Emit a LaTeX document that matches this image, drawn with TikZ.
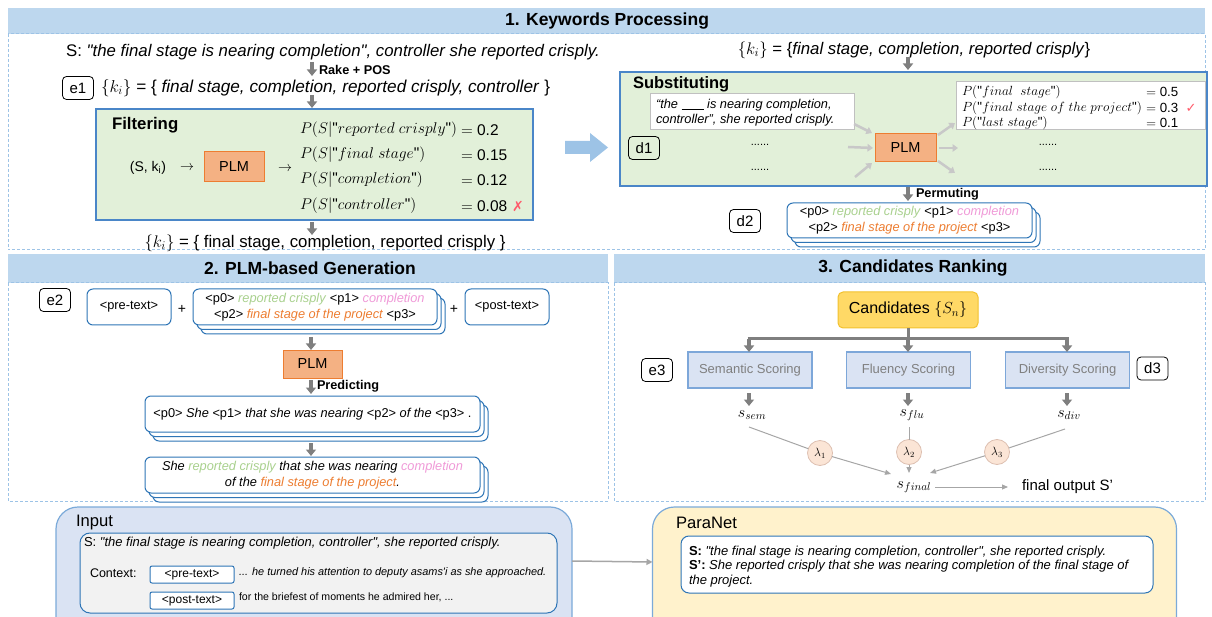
\RequirePackage{fix-cm}
\documentclass[tikz,border=0pt]{standalone}
\usepackage{fontspec}
\setmainfont{Liberation Sans}[Ligatures=TeXOff]
\newfontfamily\djv{DejaVu Sans}
\usetikzlibrary{arrows.meta,shadows,calc}
\definecolor{barblue}{HTML}{BDD7EE}
\definecolor{dashblue}{HTML}{9DC3E6}
\definecolor{grfill}{HTML}{E2F0D9}
\definecolor{grdraw}{HTML}{4A86C8}
\definecolor{plmfill}{HTML}{F4B183}
\definecolor{plmdraw}{HTML}{ED7D31}
\definecolor{arrgray}{HTML}{7F7F7F}
\definecolor{lgray}{HTML}{C8C8C8}
\definecolor{tgray}{HTML}{A6A6A6}
\definecolor{qgray}{HTML}{C0C0C0}
\definecolor{boxblue}{HTML}{2E75B6}
\definecolor{tgreen}{HTML}{A9D18E}
\definecolor{tpink}{HTML}{F09AD8}
\definecolor{torange}{HTML}{ED7D31}
\definecolor{xred}{HTML}{FF5B6B}
\definecolor{candfill}{HTML}{FFD966}
\definecolor{canddraw}{HTML}{F2C12E}
\definecolor{scfill}{HTML}{DAE3F3}
\definecolor{scdraw}{HTML}{7DA7D9}
\definecolor{sctext}{HTML}{7F7F7F}
\definecolor{lamfill}{HTML}{FBE5D6}
\definecolor{lamdraw}{HTML}{DDBFB0}
\definecolor{inpfill}{HTML}{DAE3F3}
\definecolor{inpdraw}{HTML}{7BAAD9}
\definecolor{innfill}{HTML}{F2F2F2}
\definecolor{parfill}{HTML}{FFF2CC}
\definecolor{bigarr}{HTML}{9DC3E6}
\newcommand\fsz[2]{\fontsize{#1}{#2}\selectfont}
\begin{document}
\begin{tikzpicture}[x=1pt,y=-1pt,inner sep=0pt,outer sep=0pt,
  bar/.style={fill=barblue},
  sect/.style={draw=dashblue,line width=1pt,dash pattern=on 3pt off 2pt},
  ttl/.style={font=\bfseries\fsz{17.5}{20}},
  tag/.style={draw=black,line width=0.8pt,rounded corners=4pt,minimum width=31pt,minimum height=23pt,font=\fsz{15}{18}},
  garrow/.style={draw=arrgray,line width=3.5pt,-{Triangle[width=10pt,length=6.5pt]}},
  gline/.style={draw=arrgray,line width=3pt},
  larrow/.style={draw=lgray,line width=2.5pt,-{Triangle[width=7.5pt,length=5.5pt]}},
  tline/.style={draw=tgray,line width=1pt},
  tarrow/.style={draw=tgray,line width=1pt,-{Triangle[width=5pt,length=6pt]}},
  marrow/.style={draw=tgray,line width=1.5pt,-{Triangle[width=6pt,length=6pt]}},
  plm/.style={fill=plmfill,draw=plmdraw,line width=1pt,minimum width=60pt,minimum height=30pt,font=\fsz{14.5}{16}},
  gbox/.style={fill=grfill,draw=grdraw,line width=1.2pt},
  wbox/.style={fill=white,draw=qgray,line width=1pt},
  rbox/.style={fill=white,draw=boxblue,line width=1pt,rounded corners=6pt},
  stk/.style={rbox,
    copy shadow={shadow xshift=8pt,shadow yshift=-9pt,fill=white,draw=boxblue,line width=1pt},
    copy shadow={shadow xshift=4pt,shadow yshift=-4.5pt,fill=white,draw=boxblue,line width=1pt}},
  prob/.style={font=\fsz{15.5}{17}},
  sprob/.style={font=\fsz{13.3}{15}},
  score/.style={fill=scfill,draw=scdraw,line width=1.2pt,minimum width=124pt,minimum height=36pt,text=sctext,font=\fsz{13}{15}},
  lam/.style={circle,fill=lamfill,draw=lamdraw,line width=0.8pt,minimum size=25pt,font=\fsz{12}{13}},
  stxt/.style={font=\fsz{12.8}{16}},
  big/.style={font=\fsz{16.8}{19}},
  smb/.style={font=\bfseries\fsz{12.7}{14}}]
\useasboundingbox (0,0) rectangle (1212,617);
\clip (0,0) rectangle (1212,617);

% ---------- section frames
\fill[bar] (8,8) rectangle (1205,34);
\draw[sect] (8,34) rectangle (1205,250);
\fill[bar] (8,254) rectangle (608,283);
\draw[sect] (8,283) rectangle (608,501);
\fill[bar] (614,254) rectangle (1205,283);
\draw[sect] (614,283) rectangle (1205,501);
\node[ttl] (t1) at (607,21) {1. Keywords Processing};
\node[ttl] (t2) at (310,268.5) {2. PLM-based Generation};
\node[ttl] (t3) at (913,268.5) {3. Candidates Ranking};

% ---------- section 1, left
\node[big] (s1) at (333,52) {S: \textit{"the final stage is nearing completion", controller she reported crisply.}};
\coordinate (a1s) at (312,62); \coordinate (a1e) at (312,76);
\draw[garrow] (a1s) -- (a1e);
\node[anchor=west,smb] (rk) at (319,70) {Rake + POS};
\node[tag] (e1) at (78,88) {e1};
\node[anchor=west,font=\fsz{17.2}{19}] (k1) at (101,88) {$\{k_i\}$ = \{ \textit{final stage, completion, reported crisply, controller} \}};
\coordinate (a2s) at (312,95); \coordinate (a2e) at (312,108);
\draw[garrow] (a2s) -- (a2e);
\node[gbox,minimum width=437pt,minimum height=111pt] (filt) at (314.5,164.5) {};
\node[anchor=west,font=\bfseries\fsz{16.8}{19}] (filtl) at (112,125) {Filtering};
\node[font=\fsz{14}{16}] (sk) at (148,168) {(S, k\textsubscript{i})};
\node[font=\fsz{14}{16}] (ar1) at (187,168) {$\rightarrow$};
\node[plm] (plm1) at (234,167) {PLM};
\node[font=\fsz{14}{16}] (ar2) at (285,169) {$\rightarrow$};
\node[prob,anchor=west] (p1) at (300,130) {$P(S|\textnormal{"}reported\ crisply\textnormal{"})$};
\node[prob,anchor=west] (p2) at (300,155) {$P(S|\textnormal{"}final\ stage\textnormal{"})$};
\node[prob,anchor=west] (p3) at (300,180) {$P(S|\textnormal{"}completion\textnormal{"})$};
\node[prob,anchor=west] (p4) at (300,206) {$P(S|\textnormal{"}controller\textnormal{"})$};
\node[prob,anchor=west] (v1) at (461,130) {$=$ 0.2};
\node[prob,anchor=west] (v2) at (461,155) {$=$ 0.15};
\node[prob,anchor=west] (v3) at (461,180) {$=$ 0.12};
\node[prob,anchor=west] (v4) at (461,206) {$=$ 0.08};
\node[text=xred,font=\djv\fsz{14}{16}] (x1) at (518,206) {✗};
\coordinate (a3s) at (312,222); \coordinate (a3e) at (312,235);
\draw[garrow] (a3s) -- (a3e);
\node[big] (k2) at (325,243) {$\{k_i\}$ = \{ final stage, completion, reported crisply \}};

% big arrow
\fill[bigarr] (565,141) -- (590,141) -- (590,133) -- (608,147.5) -- (590,162) -- (590,154) -- (565,154) -- cycle;

% ---------- section 1, right
\node[big] (k3) at (914,50) {$\{k_i\}$ = \{\textit{final stage, completion, reported crisply}\}};
\coordinate (a4s) at (908,57); \coordinate (a4e) at (908,70);
\draw[garrow] (a4s) -- (a4e);
\node[gbox,minimum width=587pt,minimum height=114pt] (sub) at (913.5,129) {};
\node[anchor=west,font=\bfseries\fsz{16.5}{19}] (subl) at (633,84) {Substituting};
\node[wbox,minimum width=204pt,minimum height=36pt] (q) at (752,112) {};
\node[anchor=west,font=\itshape\fsz{12.8}{15}] (q1) at (656,105) {“the \rule[-1.5pt]{22pt}{0.7pt} is nearing completion,};
\node[anchor=west,font=\itshape\fsz{12.8}{15}] (q2) at (656,120) {controller”, she reported crisply.};
\node[tag] (d1) at (644,148) {d1};
\node[font=\fsz{11}{12}] (dl1) at (760,145) {......};
\node[font=\fsz{11}{12}] (dl2) at (760,170) {......};
\node[plm,minimum width=61pt,minimum height=28pt] (plm2) at (905.5,148) {PLM};
\node[wbox,minimum width=249pt,minimum height=48pt] (pb) at (1080.5,106) {};
\node[sprob,anchor=west] (pp1) at (962,92) {$P(\textnormal{"}final\ \ stage\textnormal{"})$};
\node[sprob,anchor=west] (pp2) at (962,108) {$P(\textnormal{"}final\ stage\ of\ the\ project\textnormal{"})$};
\node[sprob,anchor=west] (pp3) at (962,123) {$P(\textnormal{"}last\ stage\textnormal{"})$};
\node[sprob,anchor=west] (pv1) at (1146,92) {$=$ 0.5};
\node[sprob,anchor=west] (pv2) at (1146,108) {$=$ 0.3};
\node[sprob,anchor=west] (pv3) at (1146,123) {$=$ 0.1};
\node[text=xred,font=\djv\fsz{13}{15}] (ck) at (1191,108) {✓};
\node[font=\fsz{11}{12}] (dr1) at (1048,145) {......};
\node[font=\fsz{11}{12}] (dr2) at (1048,170) {......};
\coordinate (lm1) at (848,147);
\coordinate (lb1) at (855,177);
\coordinate (ra1) at (955,123);
\coordinate (rm1) at (958,148);
\coordinate (rb1) at (955,173);
\draw[larrow] ([yshift=6pt]q.south east) -- ([xshift=-3pt,yshift=1pt]plm2.north west);
\draw[larrow] (lm1) -- ([xshift=-2pt]plm2.west);
\draw[larrow] (lb1) -- ([xshift=-3pt,yshift=-1pt]plm2.south west);
\draw[larrow] ([xshift=2pt,yshift=-1pt]plm2.north east) -- (ra1);
\draw[larrow] ([xshift=3pt]plm2.east) -- (rm1);
\draw[larrow] ([xshift=2pt,yshift=1pt]plm2.south east) -- (rb1);
\coordinate (a5s) at (908,187); \coordinate (a5e) at (908,201);
\draw[garrow] (a5s) -- (a5e);
\node[anchor=west,smb] (perm) at (916,194) {Permuting};
\node[tag] (d2) at (745,221) {d2};
\node[stk,minimum width=245pt,minimum height=35pt,align=center,stxt] (st1) at (909.5,220.5)
  {<p0> \textcolor{tgreen}{\textit{reported crisply}} <p1> \textcolor{tpink}{\textit{completion}}\\
   <p2> \textcolor{torange}{\textit{final stage of the project}} <p3>};

% ---------- section 2
\node[tag] (e2) at (55,300) {e2};
\node[rbox,minimum width=84pt,minimum height=36pt,stxt] (pre) at (129,307) {<pre-text>};
\node[font=\fsz{14}{16}] (pl1) at (182,309) {+};
\node[stk,minimum width=244pt,minimum height=36pt,align=center,stxt] (st2) at (315,307)
  {<p0> \textcolor{tgreen}{\textit{reported crisply}} <p1> \textcolor{tpink}{\textit{completion}}\\
   <p2> \textcolor{torange}{\textit{final stage of the project}} <p3>};
\node[font=\fsz{14}{16}] (pl2) at (454,309) {+};
\node[rbox,minimum width=84pt,minimum height=36pt,stxt] (post) at (507,307) {<post-text>};
\coordinate (a6s) at (311,337); \coordinate (a6e) at (311,350);
\draw[garrow] (a6s) -- (a6e);
\node[plm,minimum width=59pt,minimum height=28pt] (plm3) at (312.5,364) {PLM};
\coordinate (a7s) at (311,380); \coordinate (a7e) at (311,394);
\draw[garrow] (a7s) -- (a7e);
\node[anchor=west,smb] (pred) at (317,386) {Predicting};
\node[stk,minimum width=335pt,minimum height=36pt,stxt] (pb1) at (312.5,414)
  {<p0> \textit{She} <p1> \textit{that she was nearing} <p2> \textit{of the} <p3> .};
\coordinate (a8s) at (311,443); \coordinate (a8e) at (311,456);
\draw[garrow] (a8s) -- (a8e);
\node[stk,minimum width=335pt,minimum height=36pt,align=center,font={\itshape\fsz{12.8}{16}}] (pb2) at (312.5,475)
  {She \textcolor{tgreen}{reported crisply} that she was nearing \textcolor{tpink}{completion}\\
   of the \textcolor{torange}{final stage of the project}.};

% ---------- section 3
\node[fill=candfill,draw=canddraw,line width=1pt,rounded corners=5pt,minimum width=140pt,minimum height=36pt,font=\fsz{16}{18}] (cand) at (908,310) {Candidates $\{S_n\}$};
\coordinate (hl) at (749,339); \coordinate (hm) at (908,339); \coordinate (hr) at (1067,339);
\draw[gline] (cand.south) -- (hm);
\draw[gline] ([xshift=-1.5pt]hl) -- ([xshift=1.5pt]hr);
\node[score] (sem) at (750,370) {Semantic Scoring};
\node[score] (flu) at (908.5,370) {Fluency Scoring};
\node[score] (div) at (1067.5,370) {Diversity Scoring};
\draw[garrow] (hl) -- (hl |- sem.north);
\draw[garrow] (hm) -- (hm |- flu.north);
\draw[garrow] (hr) -- (hr |- div.north);
\node[tag] (e3) at (657,370) {e3};
\node[tag] (d3) at (1152.5,368.5) {d3};
\coordinate (b1s) at (749,393); \coordinate (b1e) at (749,406);
\coordinate (b2s) at (908,393); \coordinate (b2e) at (908,406);
\coordinate (b3s) at (1067,393); \coordinate (b3e) at (1067,406);
\draw[garrow] (b1s) -- (b1e);
\draw[garrow] (b2s) -- (b2e);
\draw[garrow] (b3s) -- (b3e);
\node[font=\fsz{16}{18}] (ssem) at (752,415) {$s_{sem}$};
\node[font=\fsz{16}{18}] (sflu) at (912,415) {$s_{flu}$};
\node[font=\fsz{16}{18}] (sdiv) at (1069,415) {$s_{div}$};
\node[lam] (l1) at (820,453) {$\lambda_1$};
\node[lam] (l2) at (909,452) {$\lambda_2$};
\node[lam] (l3) at (997,452) {$\lambda_3$};
\coordinate (c1a) at (749,427); \coordinate (c1b) at (891,474);
\coordinate (c2a) at (909,427); \coordinate (c2b) at (909,473);
\coordinate (c3a) at (1065,429); \coordinate (c3b) at (930,473);
\draw[tline] (c1a) -- (l1); \draw[tarrow] (l1) -- (c1b);
\draw[tline] (c2a) -- (l2); \draw[tarrow] (l2) -- (c2b);
\draw[tline] (c3a) -- (l3); \draw[tarrow] (l3) -- (c3b);
\node[font=\fsz{16}{18}] (sfin) at (914,487) {$s_{final}$};
\node[anchor=west,font=\fsz{15}{17}] (fo) at (1022,487) {final output S’};
\coordinate (foc) at (1008,487);
\draw[tarrow] ([xshift=4pt]sfin.east) -- (foc);

% ---------- bottom
\node[fill=inpfill,draw=inpdraw,line width=1.2pt,rounded corners=22pt,minimum width=516pt,minimum height=138pt] (inp) at (314,576) {};
\node[anchor=west,font=\fsz{16.6}{18}] (inpl) at (76,523) {Input};
\node[fill=innfill,draw=boxblue,line width=1pt,rounded corners=10pt,minimum width=477pt,minimum height=80pt] (inn) at (318.5,573) {};
\node[anchor=west,font=\fsz{13}{15}] (is) at (84,543) {S: \textit{"the final stage is nearing completion, controller", she reported crisply.}};
\node[anchor=west,font=\fsz{12.5}{14}] (ctx) at (90,573) {Context:};
\node[fill=white,draw=boxblue,line width=1pt,rounded corners=2pt,minimum width=84pt,minimum height=17pt,font=\fsz{12}{14}] (pre2) at (192,574.5) {<pre-text>};
\node[anchor=west,font=\itshape\fsz{10.9}{12}] (ctx1) at (239,573) {... he turned his attention to deputy asams'i as she approached.};
\node[fill=white,draw=boxblue,line width=1pt,rounded corners=2pt,minimum width=84pt,minimum height=17pt,font=\fsz{12}{14}] (post2) at (192,600.5) {<post-text>};
\node[anchor=west,font=\fsz{10.6}{12}] (ctx2) at (239,597) {for the briefest of moments he admired her, ...};

\node[fill=parfill,draw=inpdraw,line width=1.2pt,rounded corners=22pt,minimum width=524pt,minimum height=138pt] (par) at (914.5,576) {};
\node[anchor=west,font=\fsz{16.6}{18}] (parl) at (676,523) {ParaNet};
\node[fill=white,draw=boxblue,line width=1pt,rounded corners=8pt,minimum width=472pt,minimum height=57pt] (pin) at (917,564.5) {};
\node[anchor=west,font=\fsz{13}{15}] (o1) at (689,552) {\textbf{S:} \textit{"the final stage is nearing completion, controller", she reported crisply.}};
\node[anchor=west,font=\fsz{13}{15}] (o2) at (689,566.5) {\textbf{S’:} \textit{She reported crisply that she was nearing completion of the final stage of}};
\node[anchor=west,font=\fsz{13}{15}] (o3) at (689,581) {\textit{the project.}};
\draw[marrow] ([yshift=15pt]inp.east) -- ([yshift=14pt]par.west);
\end{tikzpicture}
\end{document}
